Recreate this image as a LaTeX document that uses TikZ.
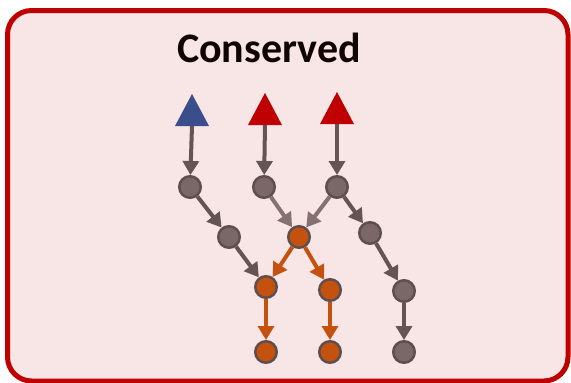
\documentclass[tikz,border=0pt]{standalone}
\usepackage{fontspec}
\setmainfont{Carlito}
\usetikzlibrary{arrows.meta}
\definecolor{bgpink}{HTML}{F8E5E6}
\definecolor{framered}{HTML}{C00000}
\definecolor{trired}{HTML}{C00000}
\definecolor{triblue}{HTML}{3C4D8C}
\definecolor{gfill}{HTML}{7B6767}
\definecolor{gline}{HTML}{5E4E4E}
\definecolor{garrow}{HTML}{645454}
\definecolor{garrowl}{HTML}{857171}
\definecolor{ofill}{HTML}{C5510F}
\definecolor{oarrow}{HTML}{C5510F}
\definecolor{titlecol}{HTML}{100404}
\tikzset{
  gnode/.style={circle,draw=gline,fill=gfill,line width=2.5pt,minimum size=21.5pt,inner sep=0pt},
  onode/.style={gnode,fill=ofill},
  conn/.style={line width=4pt,draw=garrow,-{Triangle[length=14pt,width=16pt]}},
  connl/.style={conn,draw=garrowl},
  conno/.style={conn,draw=oarrow},
}
\begin{document}
\begin{tikzpicture}[x=1pt,y=-1pt]
\useasboundingbox (0,0) rectangle (571,383);
\draw[framered,fill=bgpink,line width=5pt,rounded corners=24pt] (7.5,10.5) rectangle (568,381);
\node[font=\bfseries\fontsize{42}{46}\selectfont,text=titlecol,anchor=base,inner sep=0pt] (title) at (269,62) {Conserved};
% triangles
\fill[triblue] (175,126) -- (192,94) -- (209,126) -- cycle;
\fill[trired] (248,125) -- (265,93) -- (282,125) -- cycle;
\fill[trired] (320,124) -- (337,92) -- (354,124) -- cycle;
\coordinate (t1) at (192,126);
\coordinate (t2) at (265,125);
\coordinate (t3) at (337,124);
% nodes
\node[gnode] (c11) at (190,187) {};
\node[gnode] (c12) at (264,187) {};
\node[gnode] (c13) at (337,187) {};
\node[gnode] (c21) at (229,237) {};
\node[onode] (c22) at (299,237) {};
\node[gnode] (c23) at (370,233) {};
\node[onode] (c31) at (266,287) {};
\node[onode] (c32) at (330,290) {};
\node[gnode] (c33) at (404,291) {};
\node[onode] (c41) at (266,352) {};
\node[onode] (c42) at (330,352) {};
\node[gnode] (c43) at (404,352) {};
% connectors
\draw[conn] (t1) -- (c11);
\draw[conn] (t2) -- (c12);
\draw[conn] (t3) -- (c13);
\draw[conn] (c11) -- (c21);
\draw[conn] (c21) -- (c31);
\draw[connl] (c12) -- (c22);
\draw[connl] (c13) -- (c22);
\draw[conn] (c13) -- (c23);
\draw[conn] (c23) -- (c33);
\draw[conn] (c33) -- (c43);
\draw[conno] (c22) -- (c31);
\draw[conno] (c22) -- (c32);
\draw[conno] (c31) -- (c41);
\draw[conno] (c32) -- (c42);
\end{tikzpicture}
\end{document}
